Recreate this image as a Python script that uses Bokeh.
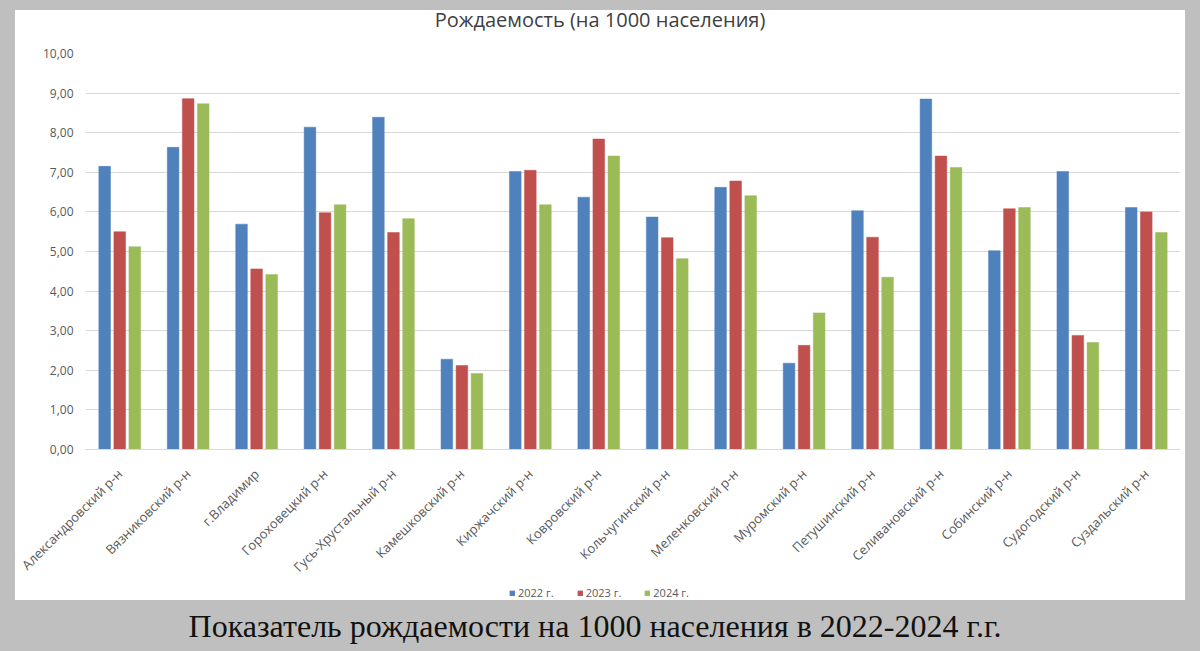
import math
from bokeh.plotting import figure
from bokeh.models import (ColumnDataSource, FactorRange, Range1d, SingleIntervalTicker,
                          CustomJSTickFormatter, Legend, LegendItem, Div)
from bokeh.transform import dodge
from bokeh.layouts import column
from bokeh.embed import file_html
from bokeh.resources import INLINE

districts = ["Александровский р-н", "Вязниковский р-н", "г.Владимир", "Гороховецкий р-н",
             "Гусь-Хрустальный р-н", "Камешковский р-н", "Киржачский р-н", "Ковровский р-н",
             "Кольчугинский р-н", "Меленковский р-н", "Муромский р-н", "Петушинский р-н",
             "Селивановский р-н", "Собинский р-н", "Судогодский р-н", "Суздальский р-н"]
y2022 = [7.15, 7.63, 5.69, 8.14, 8.39, 2.28, 7.02, 6.37, 5.87, 6.62, 2.18, 6.03, 8.85, 5.02, 7.02, 6.11]
y2023 = [5.50, 8.86, 4.56, 5.98, 5.48, 2.12, 7.05, 7.84, 5.35, 6.78, 2.63, 5.36, 7.41, 6.08, 2.88, 6.00]
y2024 = [5.12, 8.73, 4.42, 6.18, 5.83, 1.92, 6.18, 7.41, 4.82, 6.41, 3.45, 4.35, 7.12, 6.11, 2.70, 5.48]
series_labels = ["2022 г.", "2023 г.", "2024 г."]
title_text = "Рождаемость (на 1000 населения)"
caption_text = "Показатель рождаемости на 1000 населения в 2022-2024 г.г."

colors = ["#4F81BD", "#C0504D", "#9BBB59"]
GRAY = "#bfbfbf"
FONT = "Open Sans"
cols = ["a", "b", "c"]
offsets = [-0.22, 0.0, 0.22]

src = ColumnDataSource(dict(d=districts, a=y2022, b=y2023, c=y2024))

title_div = Div(text=title_text, width=1170, height=33, margin=0,
                styles={"font-family": "'Open Sans', sans-serif", "font-size": "20px",
                        "color": "#404040", "text-align": "center", "line-height": "20px",
                        "padding-top": "0px", "background-color": "white",
                        "width": "1170px", "height": "33px", "box-sizing": "border-box"})

p = figure(width=1170, height=541, margin=0,
           x_range=FactorRange(factors=districts), y_range=Range1d(0, 10),
           output_backend="svg", toolbar_location=None, tools="",
           min_border_left=70, min_border_right=5, min_border_top=10, min_border_bottom=135,
           background_fill_color="white", border_fill_color="white")
p.outline_line_color = None

for col, off, c in zip(cols, offsets, colors):
    p.vbar(x=dodge("d", off, range=p.x_range), top=col, width=0.17, source=src,
           fill_color=c, line_color=c, line_width=0.5)

p.xgrid.grid_line_color = None
p.ygrid.grid_line_color = "#d9d9d9"
p.ygrid.grid_line_width = 1

p.yaxis.ticker = SingleIntervalTicker(interval=1)
p.yaxis.formatter = CustomJSTickFormatter(code="return tick.toFixed(2).replace('.', ',');")
p.yaxis.axis_line_color = None
p.yaxis.major_tick_line_color = None
p.yaxis.minor_tick_line_color = None
p.yaxis.major_label_text_font = FONT
p.yaxis.major_label_text_font_size = "12px"
p.yaxis.major_label_text_color = "#595959"
p.yaxis.major_label_standoff = 6

p.xaxis.axis_line_color = "#d9d9d9"
p.xaxis.major_tick_line_color = None
p.xaxis.minor_tick_line_color = None
p.xaxis.major_label_orientation = math.pi / 4
p.xaxis.major_label_text_font = FONT
p.xaxis.major_label_text_font_size = "13px"
p.xaxis.major_label_text_color = "#595959"
p.xaxis.major_label_standoff = 16

# legend strip (white, part of the chart panel); its renderers are hidden, only the legend shows
lg = figure(width=1170, height=16, margin=0, x_range=p.x_range, y_range=Range1d(0, 10),
            output_backend="svg", toolbar_location=None, tools="",
            x_axis_location=None, y_axis_location=None,
            min_border=0, background_fill_color="white", border_fill_color="white")
lg.outline_line_color = None
lg.xgrid.grid_line_color = None
lg.ygrid.grid_line_color = None
lr = [lg.vbar(x=dodge("d", off, range=lg.x_range), top=col, width=0.17, source=src,
              fill_color=c, line_color=c, visible=False)
      for col, off, c in zip(cols, offsets, colors)]
legend = Legend(items=[LegendItem(label=s, renderers=[rr]) for s, rr in zip(series_labels, lr)],
                location=(424, 0), orientation="horizontal", margin=0, padding=0,
                glyph_width=6, glyph_height=6, label_height=12, label_text_font=FONT,
                label_text_font_size="11px", label_text_color="#595959", label_standoff=3,
                spacing=23, border_line_color=None, background_fill_alpha=0,
                inactive_fill_alpha=0, click_policy="none")
lg.add_layout(legend, "center")

panel = column(title_div, p, lg, width=1170, height=590, spacing=0, margin=(10, 15, 0, 15),
               styles={"background-color": "white"})

cap = Div(text=caption_text, width=1200, height=51, margin=0,
          styles={"font-family": "'Liberation Serif', 'Times New Roman', serif",
                  "font-size": "32px", "color": "#111111", "text-align": "center",
                  "padding-top": "8px", "width": "1200px", "box-sizing": "border-box",
                  "padding-right": "10px", "line-height": "1.15"})

layout = column(panel, cap, width=1200, height=651, spacing=0,
                styles={"background-color": GRAY})

open("out.html", "w").write(file_html(layout, INLINE))
